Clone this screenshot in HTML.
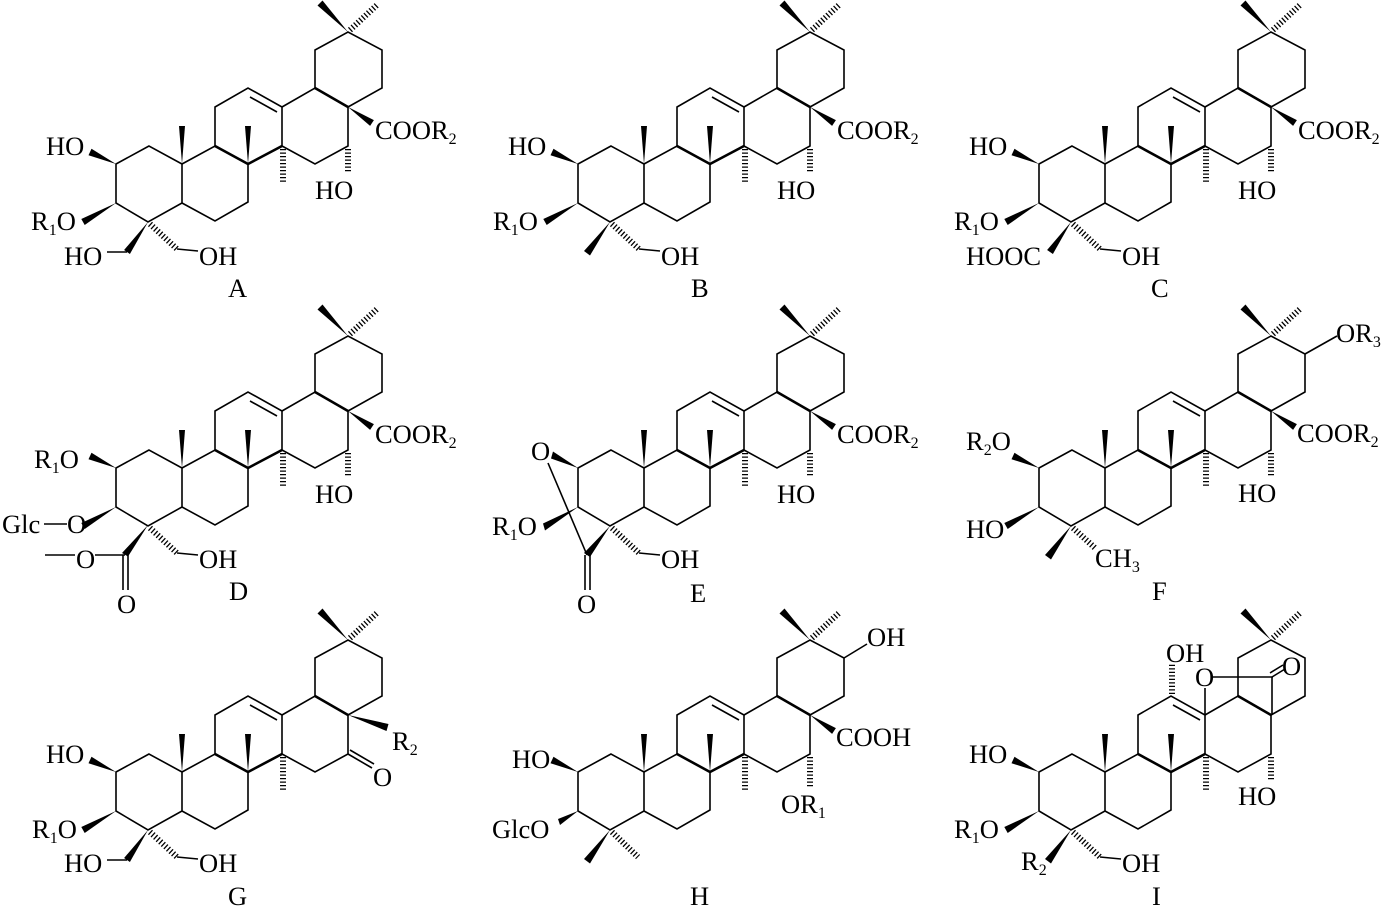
<!DOCTYPE html>
<html><head><meta charset="utf-8"><style>
html,body{margin:0;padding:0;background:#fff;}
svg{display:block;}
.t{font-family:"Liberation Serif",serif;font-size:26.5px;fill:#000;}
.s{font-size:16px;}
line,polyline,polygon.r{stroke:#000;stroke-width:1.6;fill:none;}
.h{stroke:#000;stroke-width:6;stroke-dasharray:1.3 2.2;}
.w{fill:#000;stroke:none;}
</style></head><body>
<svg width="1388" height="909" viewBox="0 0 1388 909" xmlns="http://www.w3.org/2000/svg">
<defs>
<g id="sk">
<polygon class="r" points="149,146 116,164 116,203 148,222 182,203 182,164"/>
<polyline points="182,164 215,146 248,164 248,202 215,221 182,203"/>
<polyline points="215,146 215,107 248,88 282,107 282,146 248,164"/>
<line x1="250" y1="97" x2="277" y2="112"/>
<polyline points="282,146 315,164 348,146 348,107 315,88 282,107"/>
<polyline points="315,88 315,50 348,32 382,50 382,88 348,107"/>
<line x1="215" y1="146" x2="248" y2="164" style="stroke-width:2.6"/>
<line x1="248" y1="164" x2="282" y2="146" style="stroke-width:2.6"/>
<line x1="315" y1="88" x2="348" y2="107" style="stroke-width:2.6"/>
<polygon class="w" points="182,164 179,126 185,126"/>
<polygon class="w" points="248,164 245,126 251,126"/>
<line class="h" x1="283" y1="149" x2="283" y2="183"/>
<polygon class="w" points="348,32 322.5,0.5 317.5,5.5"/>
<line class="h" x1="350" y1="30" x2="377" y2="5"/>
</g>
<polygon id="w2" class="w" points="116,164 91.5,148.8 88.5,155.2"/>
<polygon id="w3" class="w" points="116,203 84.7,225 81.3,219"/>
<g id="w4a"><polygon class="w" points="148,222 129.9,254 124.1,250"/><line x1="127" y1="252" x2="107" y2="252"/></g>
<polygon id="w4b" class="w" points="148,222 128,255.5 122,251"/>
<g id="h4"><line class="h" x1="150" y1="224" x2="177" y2="249"/><line x1="177" y1="249" x2="198" y2="251"/></g>
<polygon id="w17" class="w" points="348,107 370.1,125.9 373.9,120.1"/>
<line id="h16" class="h" x1="348" y1="149" x2="348" y2="173"/>
</defs>

<!-- A -->
<g><use href="#sk"/><use href="#w2"/><use href="#w3"/><use href="#w4a"/><use href="#h4"/><use href="#w17"/><use href="#h16"/></g>
<text class="t" x="46" y="155">HO</text>
<text class="t" x="31" y="230">R<tspan class="s" dy="5">1</tspan><tspan dy="-5">O</tspan></text>
<text class="t" x="64" y="265">HO</text>
<text class="t" x="199" y="265">OH</text>
<text class="t" x="375" y="139">COOR<tspan class="s" dy="5">2</tspan></text>
<text class="t" x="315" y="199">HO</text>
<text class="t" x="228" y="297">A</text>

<!-- B -->
<g transform="translate(462,0)"><use href="#sk"/><use href="#w2"/><use href="#w3"/><use href="#w4b"/><use href="#h4"/><use href="#w17"/><use href="#h16"/></g>
<text class="t" x="508" y="155">HO</text>
<text class="t" x="493" y="230">R<tspan class="s" dy="5">1</tspan><tspan dy="-5">O</tspan></text>
<text class="t" x="661" y="265">OH</text>
<text class="t" x="837" y="139">COOR<tspan class="s" dy="5">2</tspan></text>
<text class="t" x="777" y="199">HO</text>
<text class="t" x="691" y="297">B</text>

<!-- C -->
<g transform="translate(923,0)"><use href="#sk"/><use href="#w2"/><use href="#w3"/><polygon class="w" points="148,222 129.9,254 124.1,250"/><use href="#h4"/><use href="#w17"/><use href="#h16"/></g>
<text class="t" x="969" y="155">HO</text>
<text class="t" x="954" y="230">R<tspan class="s" dy="5">1</tspan><tspan dy="-5">O</tspan></text>
<text class="t" x="966" y="265">HOOC</text>
<text class="t" x="1122" y="265">OH</text>
<text class="t" x="1298" y="139">COOR<tspan class="s" dy="5">2</tspan></text>
<text class="t" x="1238" y="199">HO</text>
<text class="t" x="1151" y="297">C</text>

<!-- D -->
<g transform="translate(0,304)"><use href="#sk"/><use href="#w2"/><use href="#w3"/><use href="#h4"/><use href="#w17"/><use href="#h16"/>
<polygon class="w" points="148,221 128,252.5 122,249"/>
<line x1="95" y1="251" x2="125" y2="251"/><line x1="45" y1="251" x2="75" y2="251"/>
<line x1="123" y1="251" x2="123" y2="286"/><line x1="128" y1="251" x2="128" y2="286"/>
</g>
<text class="t" x="34" y="468">R<tspan class="s" dy="5">1</tspan><tspan dy="-5">O</tspan></text>
<text class="t" x="2" y="533">Glc</text>
<line x1="44" y1="524" x2="67" y2="524"/>
<text class="t" x="67" y="533">O</text>
<text class="t" x="76" y="568">O</text>
<text class="t" x="117" y="613">O</text>
<text class="t" x="199" y="568">OH</text>
<text class="t" x="375" y="443">COOR<tspan class="s" dy="5">2</tspan></text>
<text class="t" x="315" y="503">HO</text>
<text class="t" x="229" y="600">D</text>

<!-- E -->
<g transform="translate(462,304)"><use href="#sk"/><use href="#h4"/><use href="#w17"/><use href="#h16"/></g>
<polygon class="w" points="578,468 553,451.5 551,458.5"/>
<polygon class="w" points="578,507 543,523.5 545,530.5"/>
<polygon class="w" points="610,526 584,553 590,557"/>
<line x1="548" y1="463" x2="587" y2="555"/>
<line x1="585" y1="555" x2="585" y2="590"/><line x1="590" y1="555" x2="590" y2="590"/>
<text class="t" x="531" y="460">O</text>
<text class="t" x="492" y="535">R<tspan class="s" dy="5">1</tspan><tspan dy="-5">O</tspan></text>
<text class="t" x="577" y="613">O</text>
<text class="t" x="661" y="568">OH</text>
<text class="t" x="837" y="443">COOR<tspan class="s" dy="5">2</tspan></text>
<text class="t" x="777" y="503">HO</text>
<text class="t" x="690" y="602">E</text>

<!-- F -->
<g transform="translate(923,304)"><use href="#sk"/><use href="#w2"/><use href="#w3"/><use href="#w4b"/><use href="#w17"/><use href="#h16"/>
<line class="h" x1="150" y1="224" x2="172" y2="244"/>
<line x1="382" y1="50" x2="414" y2="32"/>
</g>
<text class="t" x="966" y="450">R<tspan class="s" dy="5">2</tspan><tspan dy="-5">O</tspan></text>
<text class="t" x="966" y="538">HO</text>
<text class="t" x="1095" y="567">CH<tspan class="s" dy="5">3</tspan></text>
<text class="t" x="1238" y="502">HO</text>
<text class="t" x="1297" y="442">COOR<tspan class="s" dy="5">2</tspan></text>
<text class="t" x="1336" y="342">OR<tspan class="s" dy="5">3</tspan></text>
<text class="t" x="1152" y="600">F</text>

<!-- G -->
<g transform="translate(0,608)"><use href="#sk"/><use href="#w2"/><use href="#w3"/><use href="#w4a"/><use href="#h4"/>
<polygon class="w" points="348,107 386.5,123 388.5,116"/>
<line x1="348" y1="146" x2="372" y2="160"/><line x1="350" y1="142" x2="374" y2="156"/>
</g>
<text class="t" x="46" y="763">HO</text>
<text class="t" x="32" y="838">R<tspan class="s" dy="5">1</tspan><tspan dy="-5">O</tspan></text>
<text class="t" x="64" y="872">HO</text>
<text class="t" x="199" y="872">OH</text>
<text class="t" x="392" y="750">R<tspan class="s" dy="5">2</tspan></text>
<text class="t" x="373" y="786">O</text>
<text class="t" x="228" y="905">G</text>

<!-- H -->
<g transform="translate(462,608)"><use href="#sk"/><use href="#w2"/><use href="#w4b"/><use href="#w17"/>
<polygon class="w" points="116,203 96,211 98,217"/>
<line class="h" x1="348" y1="149" x2="348" y2="180"/>
<line class="h" x1="150" y1="224" x2="176" y2="249"/>
<line x1="382" y1="50" x2="405" y2="36"/>
</g>
<text class="t" x="512" y="768">HO</text>
<text class="t" x="492" y="838">GlcO</text>
<text class="t" x="867" y="646">OH</text>
<text class="t" x="836" y="746">COOH</text>
<text class="t" x="781" y="813">OR<tspan class="s" dy="5">1</tspan></text>
<text class="t" x="690" y="905">H</text>

<!-- I -->
<g transform="translate(923,608)"><use href="#sk"/><use href="#w2"/><use href="#w3"/><use href="#w4b"/><use href="#h4"/><use href="#h16"/>
<line class="h" x1="249" y1="86" x2="249" y2="55"/>
<line x1="282" y1="107" x2="282" y2="80"/>
<line x1="290" y1="69" x2="350" y2="69"/>
<line x1="349" y1="69" x2="349" y2="107"/>
<line x1="349" y1="69" x2="362" y2="61"/><line x1="347" y1="65" x2="360" y2="57"/>
</g>
<text class="t" x="969" y="763">HO</text>
<text class="t" x="954" y="838">R<tspan class="s" dy="5">1</tspan><tspan dy="-5">O</tspan></text>
<text class="t" x="1021" y="870">R<tspan class="s" dy="5">2</tspan></text>
<text class="t" x="1122" y="872">OH</text>
<text class="t" x="1238" y="805">HO</text>
<text class="t" x="1166" y="662">OH</text>
<text class="t" x="1195" y="686">O</text>
<text class="t" x="1282" y="675">O</text>
<text class="t" x="1152" y="905">I</text>
</svg>
</body></html>
